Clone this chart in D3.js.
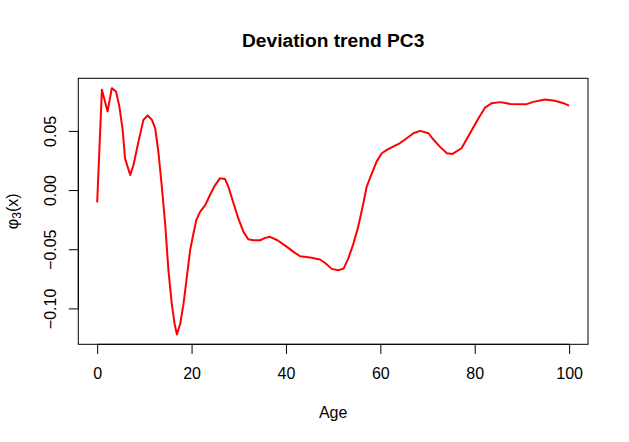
<!DOCTYPE html>
<html>
<head>
<meta charset="utf-8">
<script src="https://cdn.jsdelivr.net/npm/d3@7"></script>
<style>
  body { margin: 0; background: #fff; }
  svg { font-family: "Liberation Sans", Arial, sans-serif; }
</style>
</head>
<body>
<svg id="chart" width="629" height="442"></svg>
<script>
// values
var ages = [0, 1, 2.2, 3.1, 4, 4.7, 5.4, 5.9, 7, 7.7, 8.75, 9.8, 10.7, 11.6, 12.3, 13, 13.7, 14.4,
  15.1, 15.8, 16.4, 16.9, 17.6, 18.3, 19, 19.7, 20.4, 21, 21.8, 22.9, 23.9, 25, 26, 27.1, 27.8,
  28.9, 29.9, 31, 32, 33.1, 34.5, 35.6, 36.6, 38.2, 40.2, 41.6, 43, 45.1, 47.2, 48.3, 49.7, 51.1,
  52.2, 53.2, 54.3, 55.3, 56.4, 57.1, 58.2, 59.2, 60.3, 61.4, 62.7, 64.1, 65.6, 67, 68.4, 70.2,
  71.2, 72.6, 74.1, 75.3, 77.2, 79, 80.8, 82.2, 83.6, 85.4, 87.5, 91, 92.4, 94.9, 97, 98.8, 100];
var phi3 = [-0.0104, 0.0847, 0.0663, 0.0861, 0.0833, 0.0706, 0.0508, 0.0268, 0.0127, 0.0212,
  0.0409, 0.0593, 0.0630, 0.0593, 0.0522, 0.0311, 0.0028, -0.0282, -0.0678, -0.0960, -0.1129,
  -0.1220, -0.1129, -0.0960, -0.0734, -0.0508, -0.0367, -0.0254, -0.0184, -0.0127, -0.0042,
  0.0042, 0.0099, 0.0093, 0.0028, -0.0113, -0.0240, -0.0353, -0.0415, -0.0424, -0.0424, -0.0404,
  -0.0395, -0.0424, -0.0480, -0.0522, -0.0559, -0.0570, -0.0587, -0.0616, -0.0666, -0.0678,
  -0.0664, -0.0579, -0.0452, -0.0311, -0.0113, 0.0028, 0.0141, 0.0240, 0.0311, 0.0339, 0.0367,
  0.0395, 0.0438, 0.0480, 0.0500, 0.0480, 0.0429, 0.0367, 0.0311, 0.0305, 0.0353, 0.0480,
  0.0607, 0.0697, 0.0734, 0.0743, 0.0728, 0.0726, 0.0745, 0.0765, 0.0754, 0.0734, 0.0714];
var xTicks = [0, 20, 40, 60, 80, 100];
var yTicks = [-0.10, -0.05, 0.00, 0.05];

var svg = d3.select("#chart");
var box = { left: 78.3, right: 588, top: 78.3, bottom: 344.3 };
var tickLen = 9.6;

// R style 4% padding of the data range
function pad(ext) {
  var r = ext[1] - ext[0];
  return [ext[0] - 0.04 * r, ext[1] + 0.04 * r];
}

var x = d3.scaleLinear().domain(pad(d3.extent(ages))).range([box.left, box.right]);
var y = d3.scaleLinear().domain(pad(d3.extent(phi3))).range([box.bottom, box.top]);

var pts = ages.map(function(a, i) { return { x: a, y: phi3[i] }; });

// curve
svg.append("path")
  .datum(pts)
  .attr("fill", "none")
  .attr("stroke", "#ff0000")
  .attr("stroke-width", 2)
  .attr("stroke-linejoin", "round")
  .attr("d", d3.line().x(d => x(d.x)).y(d => y(d.y)));

// box
svg.append("rect")
  .attr("x", box.left).attr("y", box.top)
  .attr("width", box.right - box.left).attr("height", box.bottom - box.top)
  .attr("fill", "none").attr("stroke", "#000").attr("stroke-width", 1);

// x axis
var xAxis = svg.append("g")
  .attr("transform", "translate(0," + box.bottom + ")")
  .call(d3.axisBottom(x).tickValues(xTicks).tickSize(tickLen).tickSizeOuter(0).tickPadding(0)
    .tickFormat(d3.format("d")));
xAxis.select(".domain").attr("d", "M" + x(xTicks[0]) + ",0H" + x(xTicks[xTicks.length - 1]));
xAxis.selectAll("text").text(null);
xAxis.selectAll(".tick").append("text")
  .attr("y", 35).attr("fill", "#000").attr("font-size", 16)
  .attr("text-anchor", "middle").text(d => d);

// y axis
var yAxis = svg.append("g")
  .attr("transform", "translate(" + box.left + ",0)")
  .call(d3.axisLeft(y).tickValues(yTicks).tickSize(tickLen).tickSizeOuter(0));
yAxis.select(".domain").attr("d", "M0," + y(yTicks[0]) + "V" + y(yTicks[yTicks.length - 1]));
yAxis.selectAll("text").remove();
yAxis.selectAll(".tick").append("text")
  .attr("transform", "translate(-22,0) rotate(-90)")
  .attr("fill", "#000").attr("font-size", 16)
  .attr("text-anchor", "middle").text(d => d3.format(".2f")(d).replace("-", "-"));
svg.selectAll(".tick line, .domain").attr("stroke", "#000");

// title and labels
svg.append("text")
  .attr("x", (box.left + box.right) / 2).attr("y", 46.7)
  .attr("text-anchor", "middle").attr("font-size", 19.2).attr("font-weight", "bold")
  .text("Deviation trend PC3");

svg.append("text")
  .attr("x", (box.left + box.right) / 2).attr("y", 417.7)
  .attr("text-anchor", "middle").attr("font-size", 16)
  .text("Age");

var yl = svg.append("text")
  .attr("transform", "translate(17.6," + ((box.top + box.bottom) / 2) + ") rotate(-90)")
  .attr("text-anchor", "middle").attr("font-size", 16);
yl.append("tspan").text("φ");
yl.append("tspan").attr("font-size", 12).attr("dy", 3).text("3");
yl.append("tspan").attr("dy", -3).text("(x)");
</script>
</body>
</html>
